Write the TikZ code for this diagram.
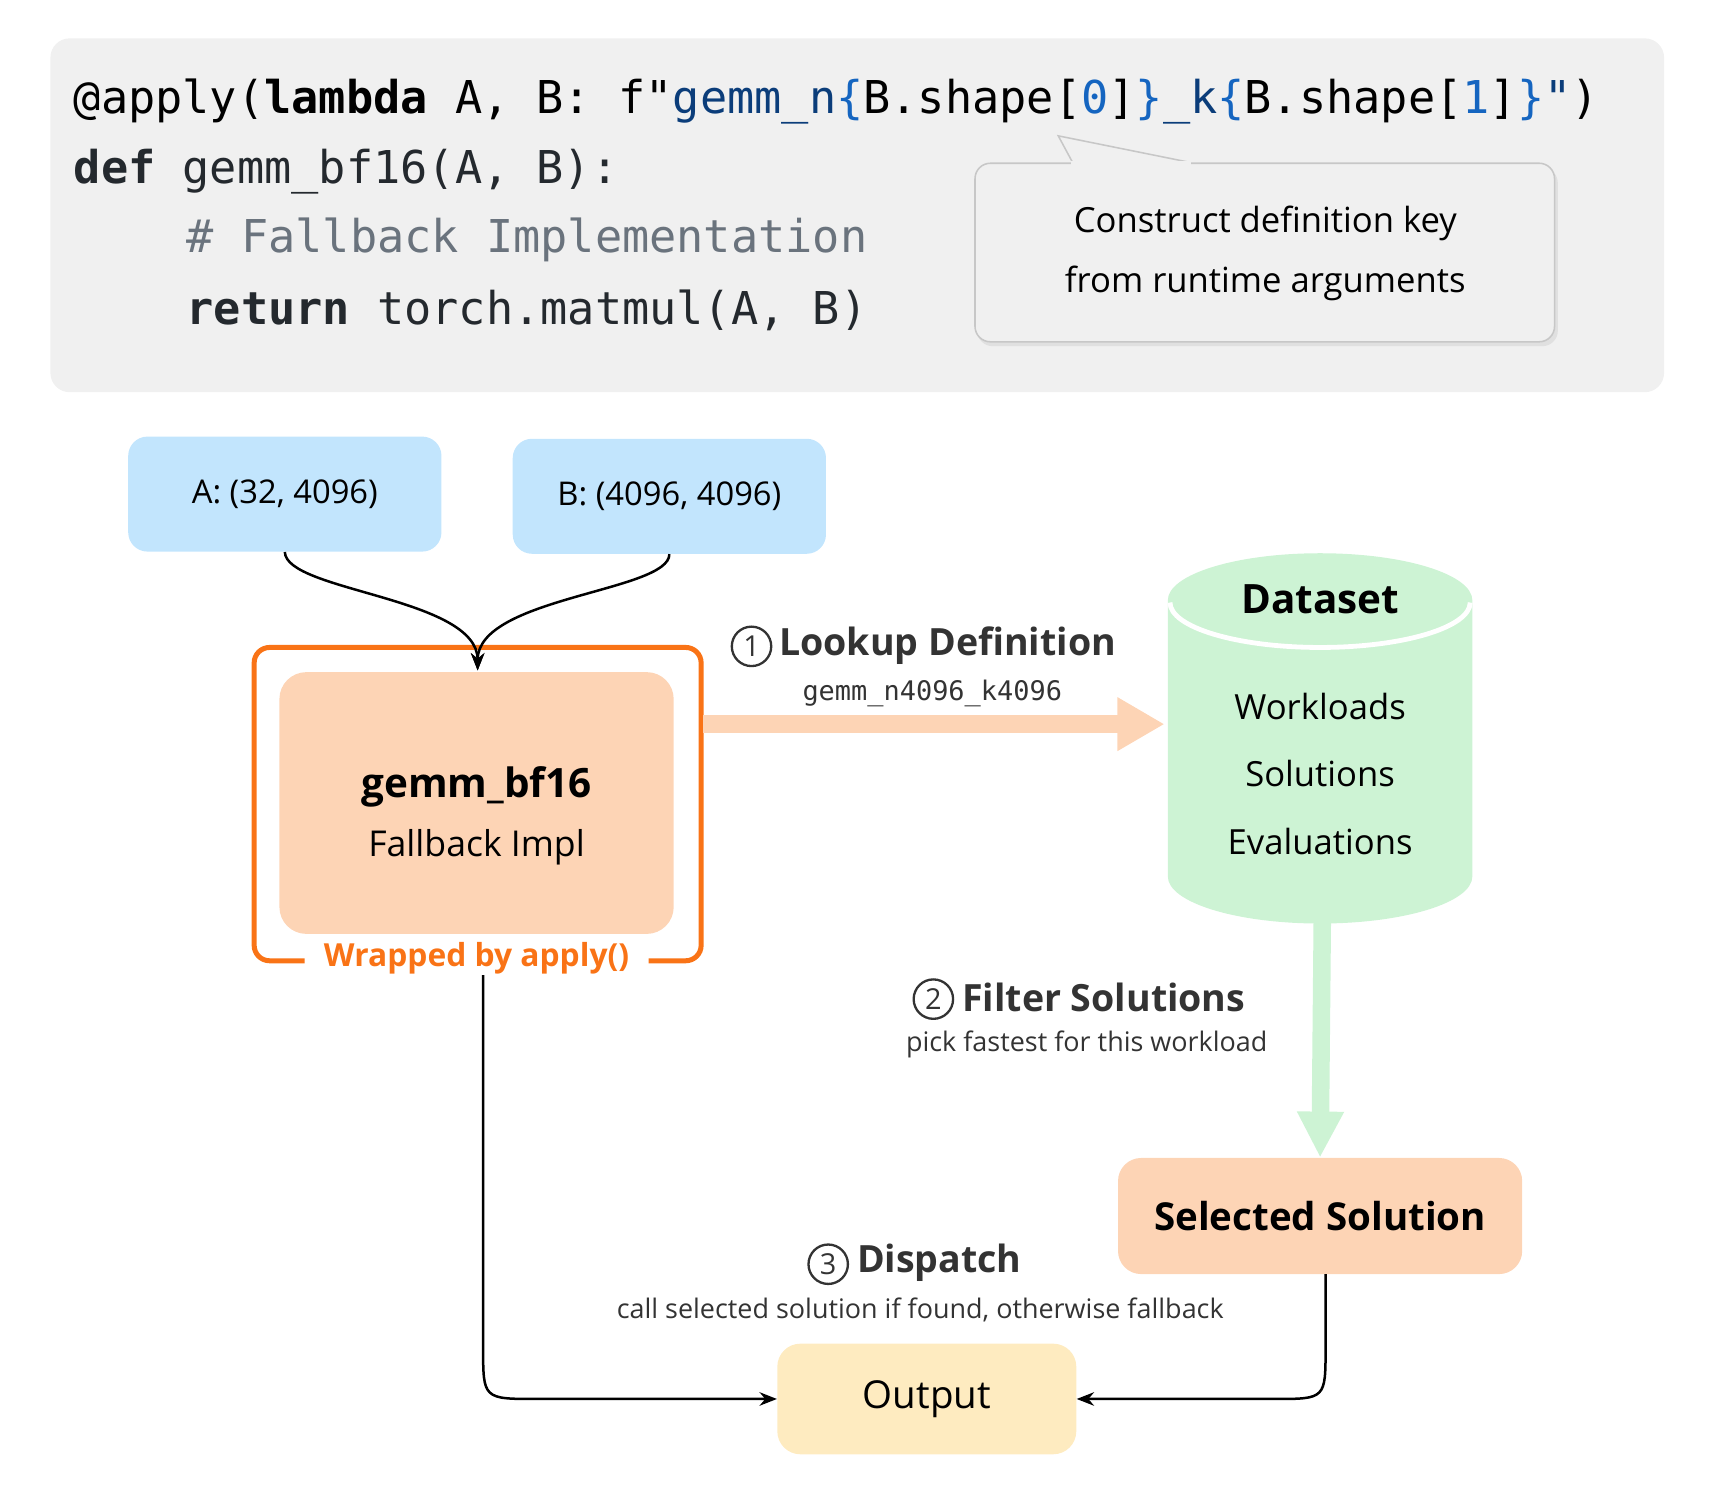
\documentclass[tikz,border=0pt]{standalone}
\usepackage{fontspec}
\setmainfont{Open Sans}
\setmonofont{DejaVu Sans Mono}
\usetikzlibrary{arrows.meta}
\definecolor{codebg}{HTML}{F0F0F0}
\definecolor{strc}{HTML}{0B3D7A}
\definecolor{numc}{HTML}{1565C0}
\definecolor{cmtc}{HTML}{6A737D}
\definecolor{kwc}{HTML}{24292E}
\definecolor{blueb}{HTML}{C2E5FD}
\definecolor{peach}{HTML}{FDD4B5}
\definecolor{orng}{HTML}{F97316}
\definecolor{mint}{HTML}{CDF3D4}
\definecolor{yel}{HTML}{FEEBC0}
\definecolor{txt}{HTML}{333333}
\newcommand{\fs}[1]{\fontsize{#1}{#1}\selectfont}
\tikzset{
 code/.style={anchor=west,font=\ttfamily\fs{23.5pt},inner sep=0},
 inbox/.style={rounded corners=10pt,fill=blueb,minimum width=5.72cm,minimum height=2.1cm,font=\fs{17pt}},
 steplbl/.style={font=\bfseries\fs{19.5pt},text=txt,inner sep=0},
 num/.style={circle,draw=txt,line width=1.2pt,minimum size=0.72cm,inner sep=0,font=\fs{15pt},text=txt},
 sub/.style={font=\fs{14pt},text=txt,inner sep=0},
 conn/.style={line width=1.3pt,-{Stealth[length=9pt,width=7pt]}},
}
\begin{document}
\begin{tikzpicture}[x=0.02cm,y=-0.02cm]
\useasboundingbox (0,0) rectangle (1560,1356);
% code block
\fill[codebg,rounded corners=10pt] (46,35) rectangle (1519,358);
\node[code] (l1) at (67,93) {@apply(\textbf{lambda} A, B: f"\textcolor{strc}{gemm\_n}\textcolor{numc}{\{}B.shape[\textcolor{numc}{0}]\textcolor{numc}{\}}\textcolor{strc}{\_k}\textcolor{numc}{\{}B.shape[\textcolor{numc}{1}]\textcolor{numc}{\}}\textcolor{strc}{"})};
\node[code,text=kwc] (l2) at (67,157) {\textbf{def} gemm\_bf16(A, B):};
\node[code,text=cmtc] (l3) at (170,219) {\# Fallback Implementation};
\node[code,text=kwc] (l4) at (170,283) {\textbf{return} torch.matmul(A, B)};
% callout
\fill[black!12,rounded corners=8pt] (892,153) rectangle (1422,316);
\filldraw[fill=codebg,draw=black!22,line width=0.8pt,rounded corners=8pt] (890,149) rectangle (1419,312);
\filldraw[fill=codebg,draw=black!22,line width=0.8pt] (980,150) -- (966,124) -- (1085,148);
\fill[codebg] (978,147) rectangle (1087,152);
\node[align=center,font=\fs{18pt},inner sep=0] (call) at (1155,231) {Construct definition key\\[12pt]from runtime arguments};
% inputs
\node[inbox] (A) at (260,451) {A: (32, 4096)};
\node[inbox] (B) at (611,453) {B: (4096, 4096)};
% wrapper
\draw[orng,line width=2.6pt,rounded corners=8pt] (278,877) -- (232,877) -- (232,591) -- (640,591) -- (640,877) -- (592,877);
\node[text=orng,font=\bfseries\fs{16.5pt},inner sep=0] (wrap) at (435,875) {Wrapped by apply()};
\node[fill=peach,rounded corners=14pt,minimum width=7.2cm,minimum height=4.78cm,inner sep=0] (g) at (435,733) {};
\node[font=\bfseries\fs{21pt},inner sep=0] (gt) at (435,718) {gemm\_bf16};
\node[font=\fs{18.5pt},inner sep=0] (gs) at (435,773) {Fallback Impl};
\coordinate (gin) at (436,612);
\draw[conn] (A.south) .. controls (261,540) and (436,545) .. (gin);
\draw[conn] (B.south) .. controls (611,540) and (436,545) .. (gin);
% dataset
\fill[mint] (1066,548) -- (1066,800) arc[start angle=180,end angle=0,x radius=139,y radius=43] -- (1344,548) arc[start angle=0,end angle=-180,x radius=139,y radius=43] -- cycle;
\draw[white,line width=2.5pt] (1068,550) arc[start angle=180,end angle=0,x radius=137,y radius=41];
\node[font=\bfseries\fs{21pt},inner sep=0] (dst) at (1205,547) {Dataset};
\node[font=\fs{18pt},inner sep=0] (w1) at (1205,645) {Workloads};
\node[font=\fs{18pt},inner sep=0] (w2) at (1205,706) {Solutions};
\node[font=\fs{18pt},inner sep=0] (w3) at (1205,768) {Evaluations};
\coordinate (dsin) at (1063,661);
\coordinate (dsout) at (1207,840);
% lookup arrow
\coordinate (la) at (642,661);
\draw[peach,line width=0.32cm,-{Triangle[length=0.86cm,width=0.92cm]}] (la) -- (dsin);
\node[num] (n1) at (686,590) {1};
\node[steplbl,anchor=west] (s1) at (711,589) {Lookup Definition};
\node[font=\ttfamily\fs{14pt},text=txt,inner sep=0] (key) at (851,633) {gemm\_n4096\_k4096};
% filter arrow
\node[fill=peach,rounded corners=12pt,minimum width=7.38cm,minimum height=2.12cm,font=\bfseries\fs{20pt}] (sel) at (1205,1110) {Selected Solution};
\draw[mint,line width=0.32cm,-{Triangle[length=0.84cm,width=0.8cm]}] (dsout) -- (sel.north);
\node[num] (n2) at (852,912) {2};
\node[steplbl,anchor=west] (s2) at (878,910) {Filter Solutions};
\node[sub] (p2) at (992,953) {pick fastest for this workload};
% dispatch
\node[fill=yel,rounded corners=12pt,minimum width=5.46cm,minimum height=2.02cm,font=\fs{20pt}] (out) at (846,1277) {Output};
\node[num] (n3) at (756,1154) {3};
\node[steplbl,anchor=west] (s3) at (782,1153) {Dispatch};
\node[sub] (p3) at (840,1196) {call selected solution if found, otherwise fallback};
\coordinate (wb) at (441,890);
\draw[conn] (wb) -- (441,1230) .. controls (441,1277) .. (490,1277) -- (out.west);
\draw[conn] (1210,1163) -- (1210,1230) .. controls (1210,1277) .. (1163,1277) -- (out.east);
\end{tikzpicture}
\end{document}
